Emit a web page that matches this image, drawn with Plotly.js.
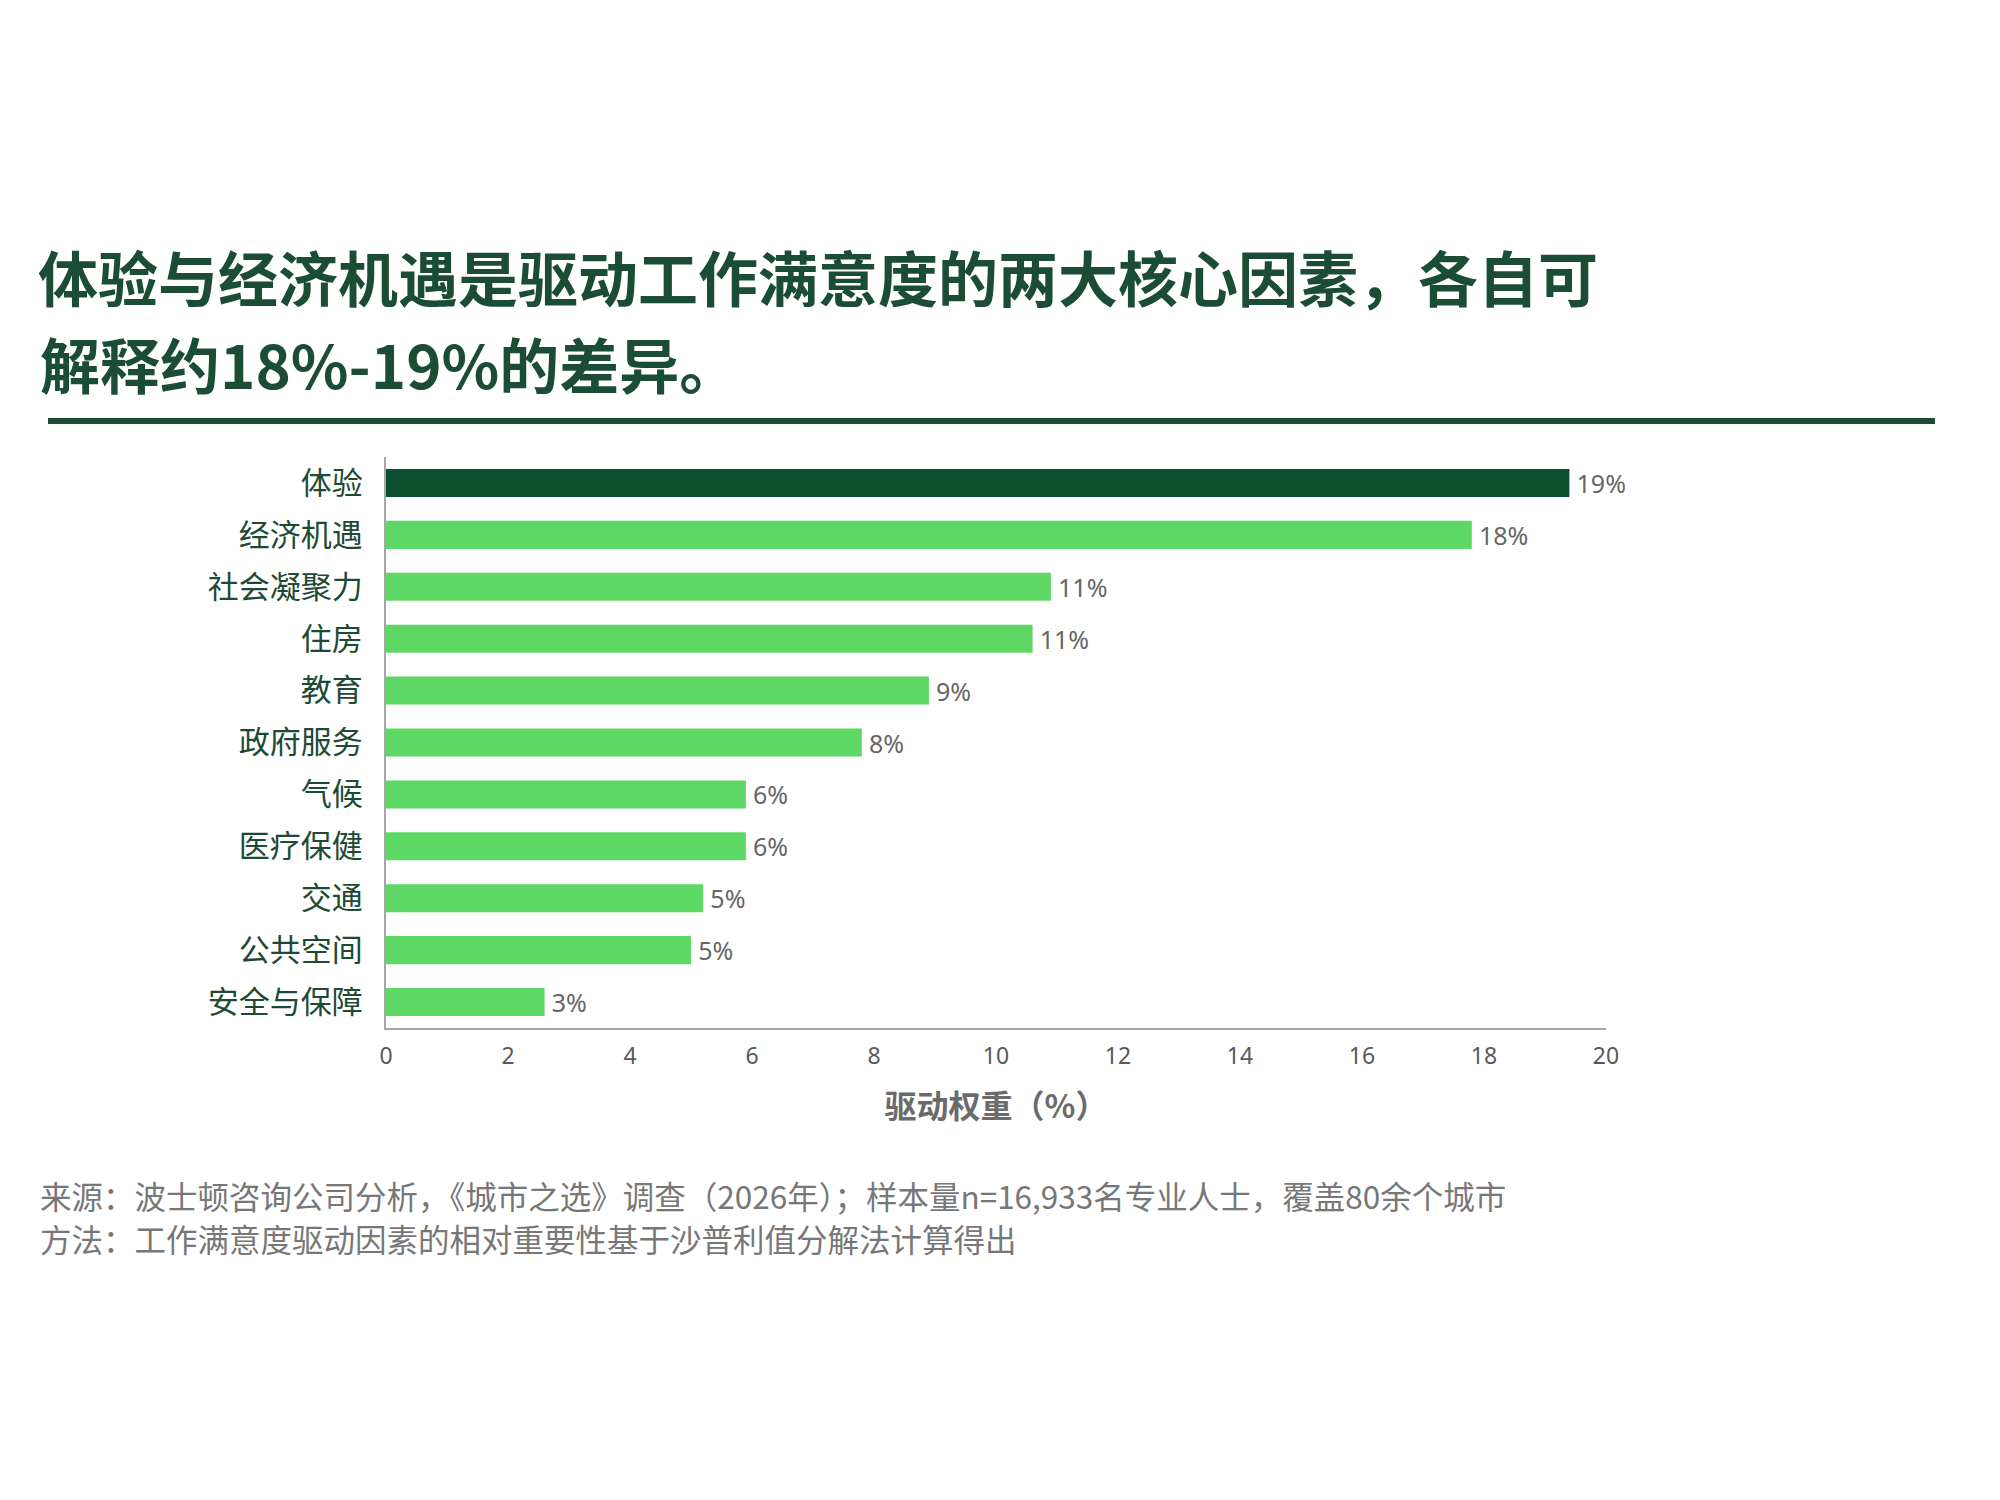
<!DOCTYPE html>
<html>
<head>
<meta charset="utf-8">
<script src="https://cdn.plot.ly/plotly-3.0.1.min.js"></script>
<style>html,body{margin:0;padding:0;background:#fff;}#chart{width:2000px;height:1500px;}</style>
</head>
<body>
<div id="chart"></div>
<script>
const categories = ["体验","经济机遇","社会凝聚力","住房","教育","政府服务","气候","医疗保健","交通","公共空间","安全与保障"];
const values = [19.4, 17.8, 10.9, 10.6, 8.9, 7.8, 5.9, 5.9, 5.2, 5.0, 2.6];
const valueLabels = ["19%","18%","11%","11%","9%","8%","6%","6%","5%","5%","3%"];
const xTicks = [0,2,4,6,8,10,12,14,16,18,20];
const titleLines = ["体验与经济机遇是驱动工作满意度的两大核心因素，各自可", "解释约18%-19%的差异。"];
const xTitle = "驱动权重（%）";
const footnotes = [
  "来源：波士顿咨询公司分析，《城市之选》调查（2026年）；样本量n=16,933名专业人士，覆盖80余个城市",
  "方法：工作满意度驱动因素的相对重要性基于沙普利值分解法计算得出"
];

const CJK = "'Noto Sans CJK SC', 'Noto Sans', sans-serif";
const barColors = categories.map((c, i) => i === 0 ? "#0a4f2e" : "#5ed865");
const titleFont = {family: CJK, size: 60, color: "#1b4d36", weight: "bold"};

const trace = {
  type: "bar",
  orientation: "h",
  y: categories,
  x: values,
  text: valueLabels,
  texttemplate: "\u2009%{text}",
  textposition: "outside",
  constraintext: "none",
  cliponaxis: false,
  textfont: {family: "'Noto Sans', " + CJK, size: 25, color: "#666666"},
  marker: {color: barColors, line: {width: 0}},
  hoverinfo: "skip"
};

const footAnn = footnotes.map((t, i) => ({
  text: t, showarrow: false,
  xref: "paper", yref: "paper",
  x: (38-386)/1220, xanchor: "left",
  y: (1028 - (1195 + i*43))/571, yanchor: "middle",
  font: {family: CJK, size: 31.5, color: "#777777"}
}));

const layout = {
  width: 2000,
  height: 1500,
  paper_bgcolor: "#ffffff",
  plot_bgcolor: "#ffffff",
  showlegend: false,
  margin: {l: 386, r: 394, t: 457, b: 472, pad: 0},
  bargap: 0.46,
  font: {family: CJK},
  title: {
    text: titleLines[0],
    x: 0.019, xref: "container", xanchor: "left",
    y: 1 - 281/1500, yref: "container", yanchor: "middle",
    font: titleFont
  },
  xaxis: {
    range: [0, 20],
    tickvals: xTicks,
    ticktext: xTicks.map(String),
    showgrid: false,
    zeroline: false,
    showline: true,
    linecolor: "#a6a6a6",
    linewidth: 2,
    ticks: "outside",
    ticklen: 0,
    ticklabelstandoff: 6,
    tickfont: {family: "'Noto Sans', " + CJK, size: 23, color: "#595959"},
    title: {text: xTitle, standoff: 26, font: {family: CJK, size: 32, color: "#6b6b6b", weight: "bold"}},
    fixedrange: true
  },
  yaxis: {
    autorange: "reversed",
    showgrid: false,
    zeroline: false,
    showline: true,
    linecolor: "#a6a6a6",
    linewidth: 2,
    ticks: "outside",
    ticklen: 0,
    ticklabelstandoff: 15,
    tickfont: {family: CJK, size: 31, color: "#1d4a35"},
    fixedrange: true
  },
  shapes: [{
    type: "line", xref: "paper", yref: "paper",
    x0: (48-386)/1220, x1: (1935-386)/1220,
    y0: (1028-421)/571, y1: (1028-421)/571,
    line: {color: "#1b4d36", width: 6}
  }],
  annotations: [{
    text: titleLines[1], showarrow: false,
    xref: "paper", yref: "paper",
    x: (38-386)/1220, xanchor: "left",
    y: (1028-362)/571, yanchor: "middle",
    font: titleFont
  }].concat(footAnn)
};

Plotly.newPlot("chart", [trace], layout, {displayModeBar: false, staticPlot: true});
</script>
</body>
</html>
